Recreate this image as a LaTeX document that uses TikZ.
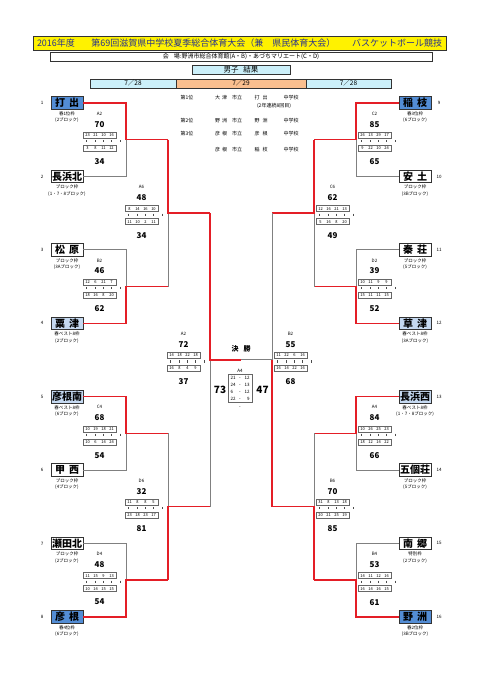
\documentclass[tikz,border=0pt]{standalone}
\usepackage{fontspec}
\setmainfont{Noto Sans CJK JP}
\definecolor{winred}{RGB}{228,30,38}
\definecolor{losegray}{RGB}{128,128,128}
\definecolor{darkb}{RGB}{83,141,213}
\definecolor{lightb}{RGB}{197,217,241}
\definecolor{cyanb}{RGB}{204,240,250}
\definecolor{peach}{RGB}{250,191,143}
\definecolor{titleblue}{RGB}{40,50,140}
\newcommand\qq[4]{\makebox[8pt]{#1}\makebox[8pt]{#2}\makebox[8pt]{#3}\makebox[8pt]{#4}}
\newcommand\scoreblk[7]{%
\begin{scope}[shift={(#2)}]
\node[mlbl] (#1l) at (0,-26) {#3};
\node[sc] (#1t) at (0,-15.5) {#4};
\node[qbox] (#1a) at (0,-4.5) {\qq#5};
\foreach \k in {0,...,4}{\draw[tick] (-13+8.3*\k,0.4) -- ++(0,2.2);}
\node[qbox] (#1b) at (0,8.5) {\qq#6};
\node[sc] (#1s) at (0,22) {#7};
\end{scope}}
\newcommand\tmL[7]{%
\node[#3] (#1) at (67,#2) {#4};
\node[sub] (#1s) at (67,#2+10.8) {#5};
\node[sub] (#1u) at (67,#2+17.5) {#6};
\node[num] (#1n) at (42,#2) {#7};}
\newcommand\tmR[7]{%
\node[#3] (#1) at (415,#2) {#4};
\node[sub] (#1s) at (415,#2+10.8) {#5};
\node[sub] (#1u) at (415,#2+17.5) {#6};
\node[num] (#1n) at (439,#2) {#7};}
\newcommand\fr[2]{\makebox[7pt][l]{#1}\makebox[5pt]{-}\makebox[7pt][r]{#2}}
\begin{document}
\begin{tikzpicture}[x=1pt,y=-1pt,
  win/.style={draw=winred,line width=1.4pt},
  lose/.style={draw=losegray,line width=0.9pt},
  team/.style={draw=black!80,line width=0.6pt,minimum width=32pt,minimum height=12.5pt,inner sep=0pt,font=\fontsize{10}{10}\selectfont\bfseries},
  tw/.style={team,fill=white},
  tl/.style={team,fill=lightb},
  td/.style={team,fill=darkb},
  sub/.style={font=\fontsize{4.5}{5}\selectfont,inner sep=0pt},
  num/.style={font=\fontsize{4.5}{5}\selectfont,inner sep=0pt},
  mlbl/.style={font=\fontsize{4.5}{5}\selectfont,inner sep=0pt},
  sc/.style={font=\fontsize{8}{8}\selectfont\bfseries,inner sep=0pt},
  qbox/.style={draw=black!60,line width=0.4pt,minimum width=33pt,minimum height=6pt,inner sep=0pt,font=\fontsize{4}{4}\selectfont},
  tick/.style={draw=black!70,line width=0.4pt},
  rk/.style={font=\fontsize{5}{5}\selectfont,inner sep=0pt},
  hdr/.style={draw=black!80,line width=0.5pt,inner sep=0pt}]
\useasboundingbox[fill=white] (0,0) rectangle (481,680);
% header
\node[hdr,fill=yellow,minimum width=413pt,minimum height=14pt,text=titleblue,font=\fontsize{9}{9}\selectfont] (title) at (239.5,43)
  {\makebox[405pt]{2016年度\hfill 第69回滋賀県中学校夏季総合体育大会（兼　県民体育大会）\hfill バスケットボール競技}};
\node[hdr,fill=white,minimum width=382pt,minimum height=9pt,font=\fontsize{6}{6}\selectfont] (venue) at (241,56.5)
  {会\kern5pt 場:野洲市総合体育館(A・B)・あづちマリエート(C・D)};
\node[hdr,fill=cyanb,minimum width=98pt,minimum height=9pt,font=\fontsize{7.5}{7.5}\selectfont] (res) at (241,69.5) {男子\kern5pt 結果};
\node[hdr,fill=cyanb,minimum width=86pt,minimum height=9pt,font=\fontsize{6.5}{6.5}\selectfont] (d1) at (133,83.5) {7／28};
\node[hdr,fill=peach,minimum width=130pt,minimum height=9pt,font=\fontsize{6.5}{6.5}\selectfont] (d2) at (241,83.5) {7／29};
\node[hdr,fill=cyanb,minimum width=85pt,minimum height=9pt,font=\fontsize{6.5}{6.5}\selectfont] (d3) at (348.5,83.5) {7／28};
% rankings
\node[rk] (r1a) at (187,98) {第1位};
\node[rk] (r1b) at (221,98) {大\kern2pt 津};
\node[rk] (r1c) at (237,98) {市立};
\node[rk] (r1d) at (261,98) {打\kern3pt 出};
\node[rk] (r1e) at (291,98) {中学校};
\node[rk] (r1f) at (274,105.5) {(2年連続8回目)};
\node[rk] (r2a) at (187,121) {第2位};
\node[rk] (r2b) at (221,121) {野\kern2pt 洲};
\node[rk] (r2c) at (237,121) {市立};
\node[rk] (r2d) at (261,121) {野\kern3pt 洲};
\node[rk] (r2e) at (291,121) {中学校};
\node[rk] (r3a) at (187,134) {第3位};
\node[rk] (r3b) at (221,134) {彦\kern2pt 根};
\node[rk] (r3c) at (237,134) {市立};
\node[rk] (r3d) at (261,134) {彦\kern3pt 根};
\node[rk] (r3e) at (291,134) {中学校};
\node[rk] (r4b) at (221,149.5) {彦\kern2pt 根};
\node[rk] (r4c) at (237,149.5) {市立};
\node[rk] (r4d) at (261,149.5) {稲\kern3pt 枝};
\node[rk] (r4e) at (291,149.5) {中学校};
% teams
\tmL{t1}{103}{td}{打\kern4pt 出}{春1位枠}{(2ブロック)}{1}
\tmL{t2}{176.4}{tw}{長浜北}{ブロック枠}{(1・7・8ブロック)}{2}
\tmL{t3}{249.8}{tw}{松\kern4pt 原}{ブロック枠}{(3Aブロック)}{3}
\tmL{t4}{323.2}{tl}{粟\kern4pt 津}{春ベスト8枠}{(2ブロック)}{4}
\tmL{t5}{396.6}{tl}{彦根南}{春ベスト8枠}{(6ブロック)}{5}
\tmL{t6}{470}{tw}{甲\kern4pt 西}{ブロック枠}{(4ブロック)}{6}
\tmL{t7}{543.4}{tw}{瀬田北}{ブロック枠}{(2ブロック)}{7}
\tmL{t8}{616.8}{td}{彦\kern4pt 根}{春4位枠}{(6ブロック)}{8}
\tmR{t9}{103}{td}{稲\kern4pt 枝}{春3位枠}{(6ブロック)}{9}
\tmR{t10}{176.4}{tw}{安\kern4pt 土}{ブロック枠}{(3Bブロック)}{10}
\tmR{t11}{249.8}{tw}{秦\kern4pt 荘}{ブロック枠}{(5ブロック)}{11}
\tmR{t12}{323.2}{tl}{草\kern4pt 津}{春ベスト8枠}{(3Aブロック)}{12}
\tmR{t13}{396.6}{tl}{長浜西}{春ベスト8枠}{(1・7・8ブロック)}{13}
\tmR{t14}{470}{tw}{五個荘}{ブロック枠}{(5ブロック)}{14}
\tmR{t15}{543.4}{tw}{南\kern4pt 郷}{特別枠}{(2ブロック)}{15}
\tmR{t16}{616.8}{td}{野\kern4pt 洲}{春2位枠}{(3Bブロック)}{16}
% junctions
\coordinate (jL1) at (126,139.7); \coordinate (jL2) at (126,286.5);
\coordinate (jL3) at (126,433.3); \coordinate (jL4) at (126,580.1);
\coordinate (JL1) at (168,213.1); \coordinate (JL2) at (168,506.7);
\coordinate (SL) at (210,359.9); \coordinate (F) at (241,359.9);
\coordinate (jR1) at (356,139.7); \coordinate (jR2) at (356,286.5);
\coordinate (jR3) at (356,433.3); \coordinate (jR4) at (356,580.1);
\coordinate (JR1) at (314,213.1); \coordinate (JR2) at (314,506.7);
\coordinate (SR) at (272,359.9);
% left round 1
\draw[lose] (t2.east) -| (jL1);
\draw[win] (t1.east) -| (jL1) -- (JL1 |- jL1);
\draw[lose] (t3.east) -| (jL2);
\draw[win] (t4.east) -| (jL2) -- (JL1 |- jL2);
\draw[lose] (t6.east) -| (jL3);
\draw[win] (t5.east) -| (jL3) -- (JL2 |- jL3);
\draw[lose] (t7.east) -| (jL4);
\draw[win] (t8.east) -| (jL4) -- (JL2 |- jL4);
% left round 2
\draw[lose] (JL1 |- jL2) -- (JL1);
\draw[win] (JL1 |- jL1) -- (JL1) -- (SL |- JL1);
\draw[lose] (JL2 |- jL3) -- (JL2);
\draw[win] (JL2 |- jL4) -- (JL2) -- (SL |- JL2);
% left semifinal
\draw[lose] (SL |- JL2) -- (SL);
\draw[win] (SL |- JL1) -- (SL) -- (F);
% right round 1
\draw[lose] (t10.west) -| (jR1);
\draw[win] (t9.west) -| (jR1) -- (JR1 |- jR1);
\draw[lose] (t11.west) -| (jR2);
\draw[win] (t12.west) -| (jR2) -- (JR1 |- jR2);
\draw[lose] (t14.west) -| (jR3);
\draw[win] (t13.west) -| (jR3) -- (JR2 |- jR3);
\draw[lose] (t15.west) -| (jR4);
\draw[win] (t16.west) -| (jR4) -- (JR2 |- jR4);
% right round 2
\draw[lose] (JR1 |- jR2) -- (JR1);
\draw[win] (JR1 |- jR1) -- (JR1) -- (SR |- JR1);
\draw[lose] (JR2 |- jR3) -- (JR2);
\draw[win] (JR2 |- jR4) -- (JR2) -- (SR |- JR2);
% right semifinal
\draw[lose] (SR |- JR1) -- (SR) -- (F);
\draw[win] (SR |- JR2) -- (SR);
% scores
\scoreblk{sA}{99.5,139.7}{A2}{70}{{23}{21}{10}{16}}{{3}{8}{11}{12}}{34}
\scoreblk{sB}{99.5,286.5}{B2}{46}{{12}{6}{21}{7}}{{18}{16}{8}{20}}{62}
\scoreblk{sC}{99.5,433.3}{C4}{68}{{10}{19}{18}{21}}{{10}{6}{14}{24}}{54}
\scoreblk{sD}{99.5,580.1}{D4}{48}{{11}{15}{9}{13}}{{10}{14}{15}{15}}{54}
\scoreblk{sE}{141.5,213.1}{A6}{48}{{8}{14}{16}{10}}{{11}{10}{2}{11}}{34}
\scoreblk{sF}{141.5,506.7}{D6}{32}{{11}{8}{8}{5}}{{23}{18}{23}{17}}{81}
\scoreblk{sG}{183.5,359.9}{A2}{72}{{14}{18}{22}{18}}{{16}{8}{4}{9}}{37}
\scoreblk{sH}{374.5,139.7}{C2}{85}{{26}{13}{29}{17}}{{9}{22}{10}{24}}{65}
\scoreblk{sI}{374.5,286.5}{D2}{39}{{10}{11}{9}{9}}{{15}{11}{11}{15}}{52}
\scoreblk{sJ}{374.5,433.3}{A4}{84}{{10}{26}{25}{23}}{{18}{12}{14}{22}}{66}
\scoreblk{sK}{374.5,580.1}{B4}{53}{{14}{11}{12}{16}}{{16}{14}{16}{15}}{61}
\scoreblk{sL}{332.5,213.1}{C6}{62}{{12}{16}{21}{13}}{{5}{16}{8}{20}}{49}
\scoreblk{sM}{332.5,506.7}{B6}{70}{{31}{8}{13}{18}}{{20}{21}{25}{19}}{85}
\scoreblk{sN}{290.5,359.9}{B2}{55}{{11}{22}{6}{16}}{{16}{14}{22}{16}}{68}
% final
\node[font=\fontsize{7}{7}\selectfont\bfseries,inner sep=0pt] (kessho) at (241,349) {決\kern5pt 勝};
\node[mlbl] (fl) at (240,371) {A4};
\node[draw=black!60,line width=0.4pt,minimum width=24pt,minimum height=28pt,inner sep=0pt,align=center,font=\fontsize{4.5}{6.8}\selectfont] (fin) at (240,388.5)
  {\fr{21}{12}\\\fr{24}{13}\\\fr{6}{12}\\\fr{22}{9}};
\node[mlbl] (fd) at (240,408) {-};
\node[font=\fontsize{10}{10}\selectfont\bfseries,inner sep=0pt] (f73) at (220,390) {73};
\node[font=\fontsize{10}{10}\selectfont\bfseries,inner sep=0pt] (f47) at (262.5,390) {47};
\end{tikzpicture}
\end{document}
